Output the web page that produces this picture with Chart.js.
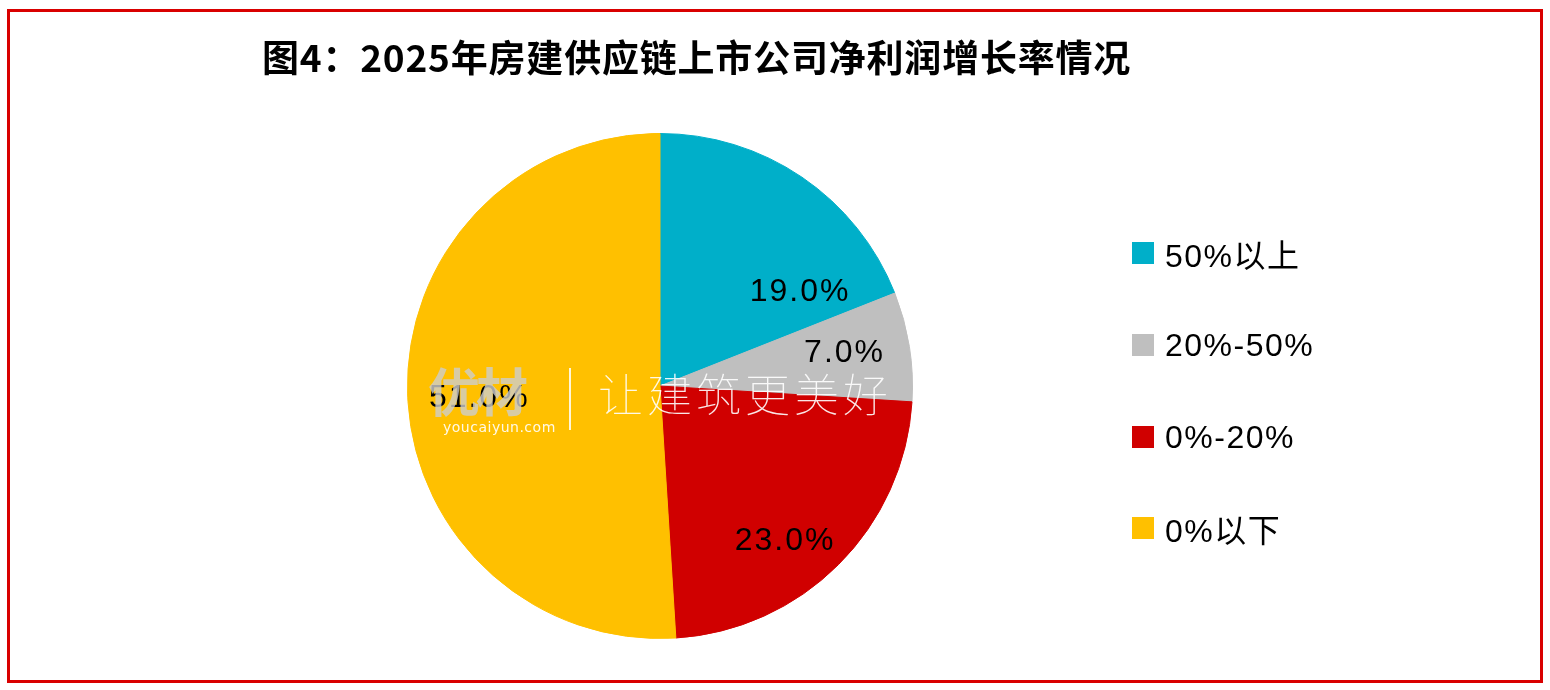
<!DOCTYPE html>
<html>
<head>
<meta charset="utf-8">
<script src="https://cdn.jsdelivr.net/npm/chart.js@4.4.1/dist/chart.umd.min.js"></script>
<style>
  html, body { margin: 0; padding: 0; background: #fff; }
  #wrap { position: relative; width: 1550px; height: 690px; overflow: hidden; }
  #pie { position: absolute; left: 0; top: 0; }
  #frame { position: absolute; left: 7px; top: 9px; width: 1530px; height: 668px; border: 3px solid #d90000; pointer-events: none; }
  #title { position: absolute; left: 262px; top: 29px; font: bold 37px "Noto Sans CJK SC", sans-serif; color: #000; white-space: nowrap; letter-spacing: 0.8px; }
  #legend { position: absolute; left: 1132px; top: 0; }
  .lg { position: absolute; left: 0; display: flex; align-items: center; white-space: nowrap; font: 32px "Liberation Sans", "Noto Sans CJK SC", sans-serif; letter-spacing: 1.5px; color: #000; }
  .lg i { display: inline-block; width: 22px; height: 22px; margin-right: 11px; }
  #wm { position: absolute; left: 0; top: 0; pointer-events: none; color: rgba(255,255,255,0.9); }
  #wm .slogan { position: absolute; left: 598px; top: 360px; font: 100 45px "Noto Sans CJK SC", sans-serif; letter-spacing: 4px; white-space: nowrap; }
  #wm .bar { position: absolute; left: 569px; top: 368px; width: 2px; height: 62px; background: rgba(255,255,255,0.85); }
  #wm .url { position: absolute; left: 443px; top: 419px; font: 14px "DejaVu Sans", sans-serif; letter-spacing: 0.5px; white-space: nowrap; }
  #wm .logo { position: absolute; left: 428px; top: 352px; font: bold 52px "Noto Sans CJK SC", sans-serif; color: rgba(205,205,205,0.8); white-space: nowrap; letter-spacing: -4px; }
</style>
</head>
<body>
<div id="wrap">
  <canvas id="pie" width="1550" height="690"></canvas>
  <div id="title">图4：2025年房建供应链上市公司净利润增长率情况</div>
  <div id="legend"></div>
  <div id="wm">
    <div class="logo">优材</div>
    <div class="url">youcaiyun.com</div>
    <div class="bar"></div>
    <div class="slogan">让建筑更美好</div>
  </div>
  <div id="frame"></div>
</div>
<script>
// Data
const categories = ['50%以上', '20%-50%', '0%-20%', '0%以下'];
const shares     = [19.0, 7.0, 23.0, 51.0];
const colors     = ['#00afc9', '#bfbfbf', '#d00000', '#ffc000'];

// label nudges (px) so labels sit where the original put them
const labelNudge = [[35, 61], [0, -4], [-7, 23], [6, 6]];

const pieLabels = {
  id: 'pieLabels',
  afterDatasetsDraw(chart) {
    const ctx = chart.ctx;
    const meta = chart.getDatasetMeta(0);
    ctx.save();
    ctx.font = '32px "Liberation Sans", sans-serif';
    ctx.letterSpacing = '2px';
    ctx.fillStyle = '#000';
    ctx.textAlign = 'center';
    ctx.textBaseline = 'middle';
    meta.data.forEach((arc, i) => {
      const p = arc.getProps(['x', 'y', 'startAngle', 'endAngle', 'outerRadius'], true);
      const mid = (p.startAngle + p.endAngle) / 2;
      const r = p.outerRadius * 0.74;
      const x = p.x + Math.cos(mid) * r + labelNudge[i][0];
      const y = p.y + Math.sin(mid) * r + labelNudge[i][1];
      ctx.fillText(shares[i].toFixed(1) + '%', x, y);
    });
    ctx.restore();
  }
};

new Chart(document.getElementById('pie'), {
  type: 'pie',
  data: {
    labels: categories,
    datasets: [{
      data: shares,
      backgroundColor: colors,
      borderColor: colors,
      borderWidth: 1
    }]
  },
  options: {
    responsive: false,
    animation: false,
    layout: { padding: { left: 407, right: 637, top: 133, bottom: 51 } },
    plugins: {
      legend: { display: false },
      tooltip: { enabled: false },
      title: { display: false }
    }
  },
  plugins: [pieLabels]
});

// Legend
const legendEl = document.getElementById('legend');
const legendY = [253, 345, 437, 528];
categories.forEach((c, i) => {
  const row = document.createElement('div');
  row.className = 'lg';
  row.style.top = (legendY[i] - 20) + 'px';
  row.style.height = '40px';
  row.innerHTML = `<i style="background:${colors[i]}"></i><span>${c}</span>`;
  legendEl.appendChild(row);
});
</script>
</body>
</html>
